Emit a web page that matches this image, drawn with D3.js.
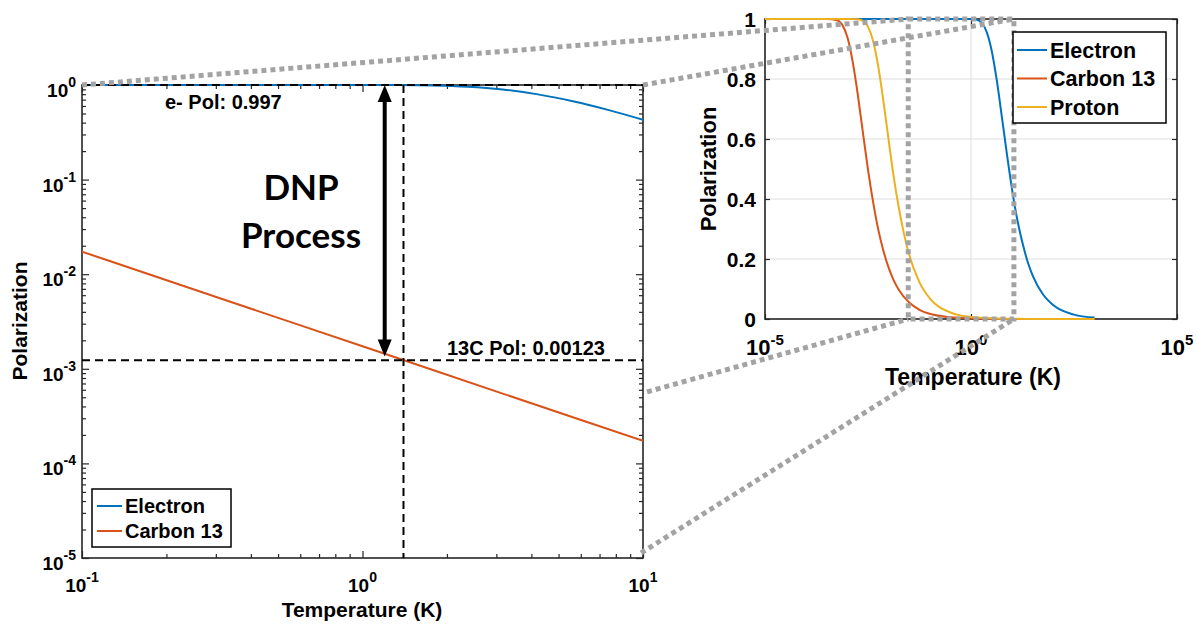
<!DOCTYPE html>
<html lang="en">
<head>
<meta charset="UTF-8">
<title>Polarization vs Temperature</title>
<style>
  body { margin: 0; background: #fff; }
  text { font-family: "Liberation Sans", Arial, sans-serif; font-weight: bold; fill: #000; }
</style>
</head>
<body>
<div id="chart"></div>
<script src="https://cdnjs.cloudflare.com/ajax/libs/d3/7.8.5/d3.min.js"></script>
<script>
// values (temperature in K, polarization)
var tempE = [1e-5, 1e-3, 0.1, 0.5, 1, 1.33, 1.78, 2.37, 3.16, 4.22, 5.62, 7.5, 10, 13.3, 17.8, 23.7, 31.6, 56.2, 100, 316, 1000];
var polE  = [1, 1, 1, 1, 0.9998, 0.998, 0.9886, 0.959, 0.896, 0.796, 0.673, 0.546, 0.429, 0.331, 0.253, 0.191, 0.144, 0.0815, 0.0459, 0.0145, 0.0046];

var tempC = [1e-5, 1e-4, 3.16e-4, 5.62e-4, 7.5e-4, 1e-3, 1.33e-3, 1.78e-3, 2.37e-3, 3.16e-3, 4.22e-3, 5.62e-3, 7.5e-3, 1e-2, 1.33e-2, 1.78e-2, 3.16e-2, 5.62e-2, 0.1, 0.316, 1, 3.16, 10, 100, 1000];
var polC  = [1, 1, 0.99996, 0.9957, 0.9804, 0.939, 0.861, 0.750, 0.623, 0.498, 0.389, 0.298, 0.227, 0.171, 0.129, 0.097, 0.0547, 0.0308, 0.0173, 0.00547, 0.00173, 0.000547, 0.000173, 0.0000173, 0.0000017];

var tempH = [1e-5, 1e-3, 1.78e-3, 2.37e-3, 3.16e-3, 4.22e-3, 5.62e-3, 7.5e-3, 1e-2, 1.33e-2, 1.78e-2, 2.37e-2, 3.16e-2, 5.62e-2, 0.1, 0.316, 1, 10, 100, 1000];
var polH  = [1, 1, 0.9991, 0.994, 0.9746, 0.926, 0.841, 0.725, 0.597, 0.474, 0.369, 0.283, 0.214, 0.122, 0.0687, 0.0218, 0.0069, 0.00069, 0.000069, 0.0000069];

var seriesNames = ["Electron", "Carbon 13", "Proton"];
var colors = ["#0072BD", "#D95319", "#EDB120"];

var leftXTicks = [0.1, 1, 10];
var leftYTicks = [1e-5, 1e-4, 1e-3, 1e-2, 1e-1, 1];
var rightXTicks = [1e-5, 1, 1e5];
var rightYTicks = [0, 0.2, 0.4, 0.6, 0.8, 1];
var rightYLabels = ["0", "0.2", "0.4", "0.6", "0.8", "1"];

// annotations
var ePol = 0.997, cPol = 0.00123, markT = 1.4;
var arrowT = 1.2, arrowBottom = 0.00135;
var zoomT = [0.03, 11];
var linkLow = [5.7e-4, 1.13e-5];

var svg = d3.select("#chart").append("svg").attr("width", 1197).attr("height", 624);

var xL = d3.scaleLog().domain([0.1, 10]).range([82, 643]);
var yL = d3.scaleLog().domain([1e-5, 1]).range([558, 85]);
var xR = d3.scaleLog().domain([1e-5, 1e5]).range([765, 1177]);
var yR = d3.scaleLinear().domain([0, 1]).range([319, 19]);

function pts(t, p) { return t.map(function(d, i) { return {t: d, p: p[i]}; }); }
var dataE = pts(tempE, polE), dataC = pts(tempC, polC), dataH = pts(tempH, polH);

function minors(lo, hi) {
  var out = [];
  for (var e = lo; e < hi; e++) for (var k = 2; k <= 9; k++) out.push(k * Math.pow(10, e));
  return out;
}

function supLabel(g, x, y, exp, size, supSize, anchor, lift) {
  var t = g.append("text").attr("x", x).attr("y", y).attr("text-anchor", anchor).style("font-size", size + "px");
  t.append("tspan").text("10");
  t.append("tspan").attr("dy", -lift).style("font-size", supSize + "px").text(exp);
}

// ---------- left plot ----------
var left = svg.append("g");
left.append("rect").attr("x", 82).attr("y", 85).attr("width", 561).attr("height", 473).attr("fill", "#fff");

var axisColor = "#262626";
left.append("g").attr("transform", "translate(0,558)")
  .call(d3.axisBottom(xL).tickValues(leftXTicks).tickSizeInner(-7).tickSizeOuter(0).tickFormat(""));
left.append("g").attr("transform", "translate(0,558)")
  .call(d3.axisBottom(xL).tickValues(minors(-1, 1)).tickSizeInner(-4).tickSizeOuter(0).tickFormat(""));
left.append("g").attr("transform", "translate(0,85)")
  .call(d3.axisTop(xL).tickValues(leftXTicks).tickSizeInner(-7).tickSizeOuter(0).tickFormat(""));
left.append("g").attr("transform", "translate(0,85)")
  .call(d3.axisTop(xL).tickValues(minors(-1, 1)).tickSizeInner(-4).tickSizeOuter(0).tickFormat(""));
left.append("g").attr("transform", "translate(82,0)")
  .call(d3.axisLeft(yL).tickValues(leftYTicks).tickSizeInner(-7).tickSizeOuter(0).tickFormat(""));
left.append("g").attr("transform", "translate(82,0)")
  .call(d3.axisLeft(yL).tickValues(minors(-5, 0)).tickSizeInner(-4).tickSizeOuter(0).tickFormat(""));
left.append("g").attr("transform", "translate(643,0)")
  .call(d3.axisRight(yL).tickValues(leftYTicks).tickSizeInner(-7).tickSizeOuter(0).tickFormat(""));
left.append("g").attr("transform", "translate(643,0)")
  .call(d3.axisRight(yL).tickValues(minors(-5, 0)).tickSizeInner(-4).tickSizeOuter(0).tickFormat(""));
left.selectAll(".domain").remove();
left.selectAll(".tick line").attr("stroke", axisColor).attr("stroke-width", 1.2);
left.append("rect").attr("x", 82).attr("y", 85).attr("width", 561).attr("height", 473)
  .attr("fill", "none").attr("stroke", axisColor).attr("stroke-width", 1.6);

leftXTicks.forEach(function(v) {
  supLabel(left, xL(v), 592, Math.round(Math.log10(v)), 19, 14, "middle", 10);
});
leftYTicks.forEach(function(v) {
  supLabel(left, 76, yL(v) + 12, Math.round(Math.log10(v)), 19, 14, "end", 10);
});

left.append("defs").append("clipPath").attr("id", "clipL")
  .append("rect").attr("x", 82).attr("y", 83).attr("width", 561).attr("height", 477);

var lineL = d3.line().x(function(d) { return xL(d.t); }).y(function(d) { return yL(d.p); })
  .curve(d3.curveMonotoneX);
var leftSeries = [dataE, dataC];
leftSeries.forEach(function(s, i) {
  left.append("path").datum(s).attr("clip-path", "url(#clipL)")
    .attr("d", lineL).attr("fill", "none").attr("stroke", colors[i]).attr("stroke-width", 2);
});

// dashed guide lines
var dash = "8,5";
left.append("line").attr("x1", 82).attr("x2", 643).attr("y1", yL(ePol)).attr("y2", yL(ePol))
  .attr("stroke", "#000").attr("stroke-width", 2).attr("stroke-dasharray", dash);
left.append("line").attr("x1", 82).attr("x2", 643).attr("y1", yL(cPol)).attr("y2", yL(cPol))
  .attr("stroke", "#000").attr("stroke-width", 2).attr("stroke-dasharray", dash);
left.append("line").attr("x1", xL(markT)).attr("x2", xL(markT)).attr("y1", 85).attr("y2", 558)
  .attr("stroke", "#000").attr("stroke-width", 2).attr("stroke-dasharray", dash);

left.append("text").attr("x", 165).attr("y", 109).style("font-size", "20px").text("e- Pol: 0.997");
left.append("text").attr("x", 447).attr("y", 355).style("font-size", "20px").text("13C Pol: 0.00123");

// double arrow
var ax = xL(arrowT), aTop = yL(1), aBot = yL(arrowBottom);
left.append("line").attr("x1", ax).attr("x2", ax).attr("y1", aTop + 12).attr("y2", aBot - 12)
  .attr("stroke", "#000").attr("stroke-width", 4);
left.append("path").attr("d", "M" + ax + "," + aTop + " L" + (ax - 7) + "," + (aTop + 17) + " L" + (ax + 7) + "," + (aTop + 17) + " Z").attr("fill", "#000");
left.append("path").attr("d", "M" + ax + "," + aBot + " L" + (ax - 7) + "," + (aBot - 17) + " L" + (ax + 7) + "," + (aBot - 17) + " Z").attr("fill", "#000");

left.append("text").attr("x", 301).attr("y", 200).attr("text-anchor", "middle")
  .style("font-family", "Lato, 'Open Sans', sans-serif").style("font-size", "35px").text("DNP");
left.append("text").attr("x", 301).attr("y", 248).attr("text-anchor", "middle")
  .style("font-family", "Lato, 'Open Sans', sans-serif").style("font-size", "35px").text("Process");

// axis titles
left.append("text").attr("x", 362).attr("y", 617).attr("text-anchor", "middle").style("font-size", "21px").text("Temperature (K)");
left.append("text").attr("transform", "translate(27,321) rotate(-90)").attr("text-anchor", "middle")
  .style("font-size", "21px").text("Polarization");

// legend
var legL = left.append("g");
legL.append("rect").attr("x", 92).attr("y", 489).attr("width", 139).attr("height", 58)
  .attr("fill", "#fff").attr("stroke", "#000").attr("stroke-width", 1.5);
[0, 1].forEach(function(i) {
  var cy = 506 + i * 25;
  legL.append("line").attr("x1", 97).attr("x2", 122).attr("y1", cy).attr("y2", cy)
    .attr("stroke", colors[i]).attr("stroke-width", 2);
  legL.append("text").attr("x", 125).attr("y", cy + 7).style("font-size", "20px").text(seriesNames[i]);
});

// ---------- right plot ----------
var right = svg.append("g");
right.append("rect").attr("x", 765).attr("y", 19).attr("width", 412).attr("height", 300).attr("fill", "#fff");

rightYTicks.forEach(function(v) {
  right.append("line").attr("x1", 765).attr("x2", 1177).attr("y1", yR(v)).attr("y2", yR(v))
    .attr("stroke", "#dedede").attr("stroke-width", 1);
});
rightXTicks.forEach(function(v) {
  right.append("line").attr("x1", xR(v)).attr("x2", xR(v)).attr("y1", 19).attr("y2", 319)
    .attr("stroke", "#dedede").attr("stroke-width", 1);
});

right.append("g").attr("transform", "translate(0,319)")
  .call(d3.axisBottom(xR).tickValues(rightXTicks).tickSizeInner(-5).tickSizeOuter(0).tickFormat(""));
right.append("g").attr("transform", "translate(0,19)")
  .call(d3.axisTop(xR).tickValues(rightXTicks).tickSizeInner(-5).tickSizeOuter(0).tickFormat(""));
right.append("g").attr("transform", "translate(765,0)")
  .call(d3.axisLeft(yR).tickValues(rightYTicks).tickSizeInner(-5).tickSizeOuter(0).tickFormat(""));
right.append("g").attr("transform", "translate(1177,0)")
  .call(d3.axisRight(yR).tickValues(rightYTicks).tickSizeInner(-5).tickSizeOuter(0).tickFormat(""));
right.selectAll(".domain").remove();
right.selectAll(".tick line").attr("stroke", axisColor).attr("stroke-width", 1.2);
right.append("rect").attr("x", 765).attr("y", 19).attr("width", 412).attr("height", 300)
  .attr("fill", "none").attr("stroke", axisColor).attr("stroke-width", 1.6);

rightXTicks.forEach(function(v) {
  supLabel(right, xR(v), 355, Math.round(Math.log10(v)), 22, 15, "middle", 10);
});
rightYTicks.forEach(function(v, i) {
  right.append("text").attr("x", 756).attr("y", yR(v) + 7.5).attr("text-anchor", "end")
    .style("font-size", "21px").text(rightYLabels[i]);
});

var lineR = d3.line().x(function(d) { return xR(d.t); }).y(function(d) { return yR(d.p); })
  .curve(d3.curveMonotoneX);
[dataE, dataC, dataH].forEach(function(s, i) {
  right.append("path").datum(s).attr("d", lineR).attr("fill", "none")
    .attr("stroke", colors[i]).attr("stroke-width", 2);
});

right.append("text").attr("x", 973).attr("y", 385).attr("text-anchor", "middle").style("font-size", "23px").text("Temperature (K)");
right.append("text").attr("transform", "translate(716,169) rotate(-90)").attr("text-anchor", "middle")
  .style("font-size", "22px").text("Polarization");

// ---------- zoom connectors (grey dotted) ----------
var grey = svg.append("g").attr("fill", "none").attr("stroke", "#a3a3a3")
  .attr("stroke-width", 5).attr("stroke-dasharray", "5,4");
var zx0 = xR(zoomT[0]), zx1 = xR(zoomT[1]);
grey.append("line").attr("x1", xL(0.1)).attr("y1", yL(1)).attr("x2", zx0).attr("y2", yR(1));
grey.append("line").attr("x1", xL(10)).attr("y1", yL(1)).attr("x2", zx1).attr("y2", yR(1));
grey.append("line").attr("x1", xL(10) + 4).attr("y1", yL(linkLow[0])).attr("x2", zx0).attr("y2", yR(0));
grey.append("line").attr("x1", xL(10) - 2).attr("y1", yL(linkLow[1])).attr("x2", zx1).attr("y2", yR(0));
grey.append("rect").attr("x", zx0).attr("y", yR(1)).attr("width", zx1 - zx0).attr("height", yR(0) - yR(1));

// right legend (drawn above connectors)
var legR = svg.append("g");
legR.append("rect").attr("x", 1013).attr("y", 32).attr("width", 153).attr("height", 91)
  .attr("fill", "#fff").attr("stroke", "#000").attr("stroke-width", 1.5);
[0, 1, 2].forEach(function(i) {
  var cy = 50 + i * 28.5;
  legR.append("line").attr("x1", 1017).attr("x2", 1047).attr("y1", cy).attr("y2", cy)
    .attr("stroke", colors[i]).attr("stroke-width", 2);
  legR.append("text").attr("x", 1050).attr("y", cy + 7.5).style("font-size", "21.5px").text(seriesNames[i]);
});
</script>
</body>
</html>
